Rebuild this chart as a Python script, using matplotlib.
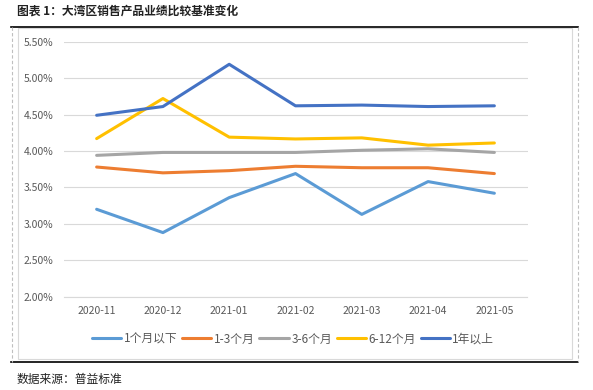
import matplotlib

matplotlib.use("Agg")

import matplotlib.pyplot as plt
from matplotlib.lines import Line2D
from matplotlib.patches import Rectangle
from matplotlib.ticker import FuncFormatter, MultipleLocator

plt.rcParams["font.family"] = ["Noto Sans CJK SC", "DejaVu Sans"]

months = ["2020-11", "2020-12", "2021-01", "2021-02", "2021-03", "2021-04", "2021-05"]
under_1m = [3.20, 2.88, 3.36, 3.69, 3.13, 3.58, 3.42]
m1_3 = [3.78, 3.70, 3.73, 3.79, 3.77, 3.77, 3.69]
m3_6 = [3.94, 3.98, 3.98, 3.98, 4.01, 4.03, 3.98]
m6_12 = [4.17, 4.72, 4.19, 4.165, 4.18, 4.08, 4.11]
over_1y = [4.49, 4.61, 5.19, 4.62, 4.63, 4.61, 4.62]

series = [
    ("1个月以下", under_1m, "#5B9BD5"),
    ("1-3个月", m1_3, "#ED7D31"),
    ("3-6个月", m3_6, "#A5A5A5"),
    ("6-12个月", m6_12, "#FFC000"),
    ("1年以上", over_1y, "#4472C4"),
]

W, H = 593, 390
fig = plt.figure(figsize=(W / 100, H / 100), dpi=100)
ax = fig.add_axes([63.5 / W, 1 - 296.7 / H, 464 / W, 255 / H])

x = list(range(len(months)))
for label, vals, color in series:
    ax.plot(x, vals, color=color, linewidth=2.2, label=label, solid_capstyle="round")

ax.set_xlim(-0.5, len(months) - 0.5)
ax.set_ylim(2.0, 5.5)
ax.yaxis.set_major_locator(MultipleLocator(0.5))
ax.yaxis.set_major_formatter(FuncFormatter(lambda v, _: f"{v:.2f}%"))
ax.set_xticks(x)
ax.set_xticklabels(months)
ax.grid(axis="y", color="#D9D9D9", linewidth=0.8)
ax.set_axisbelow(True)
for side in ["top", "right", "left"]:
    ax.spines[side].set_visible(False)
ax.spines["bottom"].set_color("#D9D9D9")
ax.tick_params(length=0, labelsize=7.5, labelcolor="#595959")
ax.tick_params(axis="y", pad=7)
ax.tick_params(axis="x", pad=7)

fig.legend(loc="center", bbox_to_anchor=(293 / W, 1 - 339 / H), ncol=5,
           frameon=False, fontsize=8.5, handlelength=2.5, handletextpad=0.2,
           columnspacing=0.4, labelcolor="#595959")


# chart frame: black rules top and bottom, dashed sides, light inner border
def fx(px):
    return px / W


def fy(py):
    return 1 - py / H


fig.add_artist(Line2D([fx(11), fx(578)], [fy(27), fy(27)], color="black", linewidth=1.2))
fig.add_artist(Line2D([fx(11), fx(578)], [fy(362), fy(362)], color="black", linewidth=1.2))
for px in (11.5, 578):
    fig.add_artist(Line2D([fx(px), fx(px)], [fy(27), fy(362)], color="#BFBFBF",
                          linewidth=0.8, linestyle=(0, (3, 2))))
fig.add_artist(Rectangle((fx(17.5), fy(359)), fx(571.5) - fx(17.5), fy(28) - fy(359),
                         fill=False, edgecolor="#D9D9D9", linewidth=0.8))

fig.text(fx(17), fy(11), "图表 1：大湾区销售产品业绩比较基准变化", fontsize=8.5,
         fontweight="bold", va="center", ha="left", color="#222222")
fig.text(fx(17), fy(379), "数据来源：普益标准", fontsize=8.5, va="center", ha="left",
         color="#222222")

fig.savefig("out.png", dpi=100)
